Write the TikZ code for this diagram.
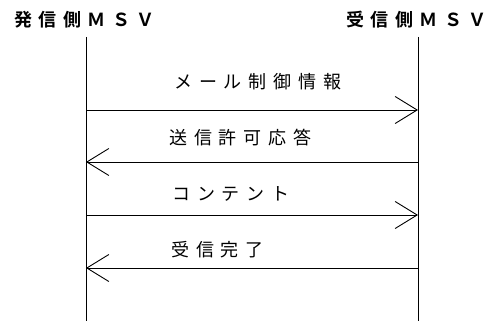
\documentclass[tikz,border=0pt]{standalone}
\usepackage{fontspec}
\usetikzlibrary{arrows.meta}
\newfontfamily\jpfont{Noto Sans CJK JP}
\newfontfamily\jpbold{Noto Sans CJK JP Bold}
\tikzset{
  head/.style={font=\jpbold\fontsize{18}{20}\selectfont\addfontfeatures{LetterSpace=36}, inner sep=0pt, anchor=west},
  msg/.style={font=\jpfont\fontsize{18}{20}\selectfont\addfontfeatures{LetterSpace=38}, inner sep=0pt, anchor=west},
  life/.style={line width=0.9pt},
  arr/.style={line width=0.9pt, -{Straight Barb[length=22pt, width=27pt, line width=0.9pt]}}
}
\begin{document}
\begin{tikzpicture}[x=1pt,y=1pt]
\useasboundingbox (0,0) rectangle (496,-321);
\node[head] (hl) at (14,-20) {発信側ＭＳＶ};
\node[head] (hr) at (346,-20) {受信側ＭＳＶ};
\coordinate (lt) at (86,-37);
\coordinate (lb) at (86,-321);
\coordinate (rt) at (418,-37);
\coordinate (rb) at (418,-321);
\draw[life] (lt) -- (lb);
\draw[life] (rt) -- (rb);
\coordinate (a1l) at (86,-110);
\coordinate (a1r) at (418,-110);
\coordinate (a2l) at (86,-162);
\coordinate (a2r) at (418,-162);
\coordinate (a3l) at (86,-215);
\coordinate (a3r) at (418,-215);
\coordinate (a4l) at (86,-268);
\coordinate (a4r) at (418,-268);
\draw[arr] (a1l) -- (a1r);
\draw[arr] (a2r) -- (a2l);
\draw[arr] (a3l) -- (a3r);
\draw[arr] (a4r) -- (a4l);
\node[msg] (m1) at (174,-82) {メール制御情報};
\node[msg] (m2) at (169,-138) {送信許可応答};
\node[msg] (m3) at (172,-194) {コンテント};
\node[msg] (m4) at (171,-250) {受信完了};
\end{tikzpicture}
\end{document}
